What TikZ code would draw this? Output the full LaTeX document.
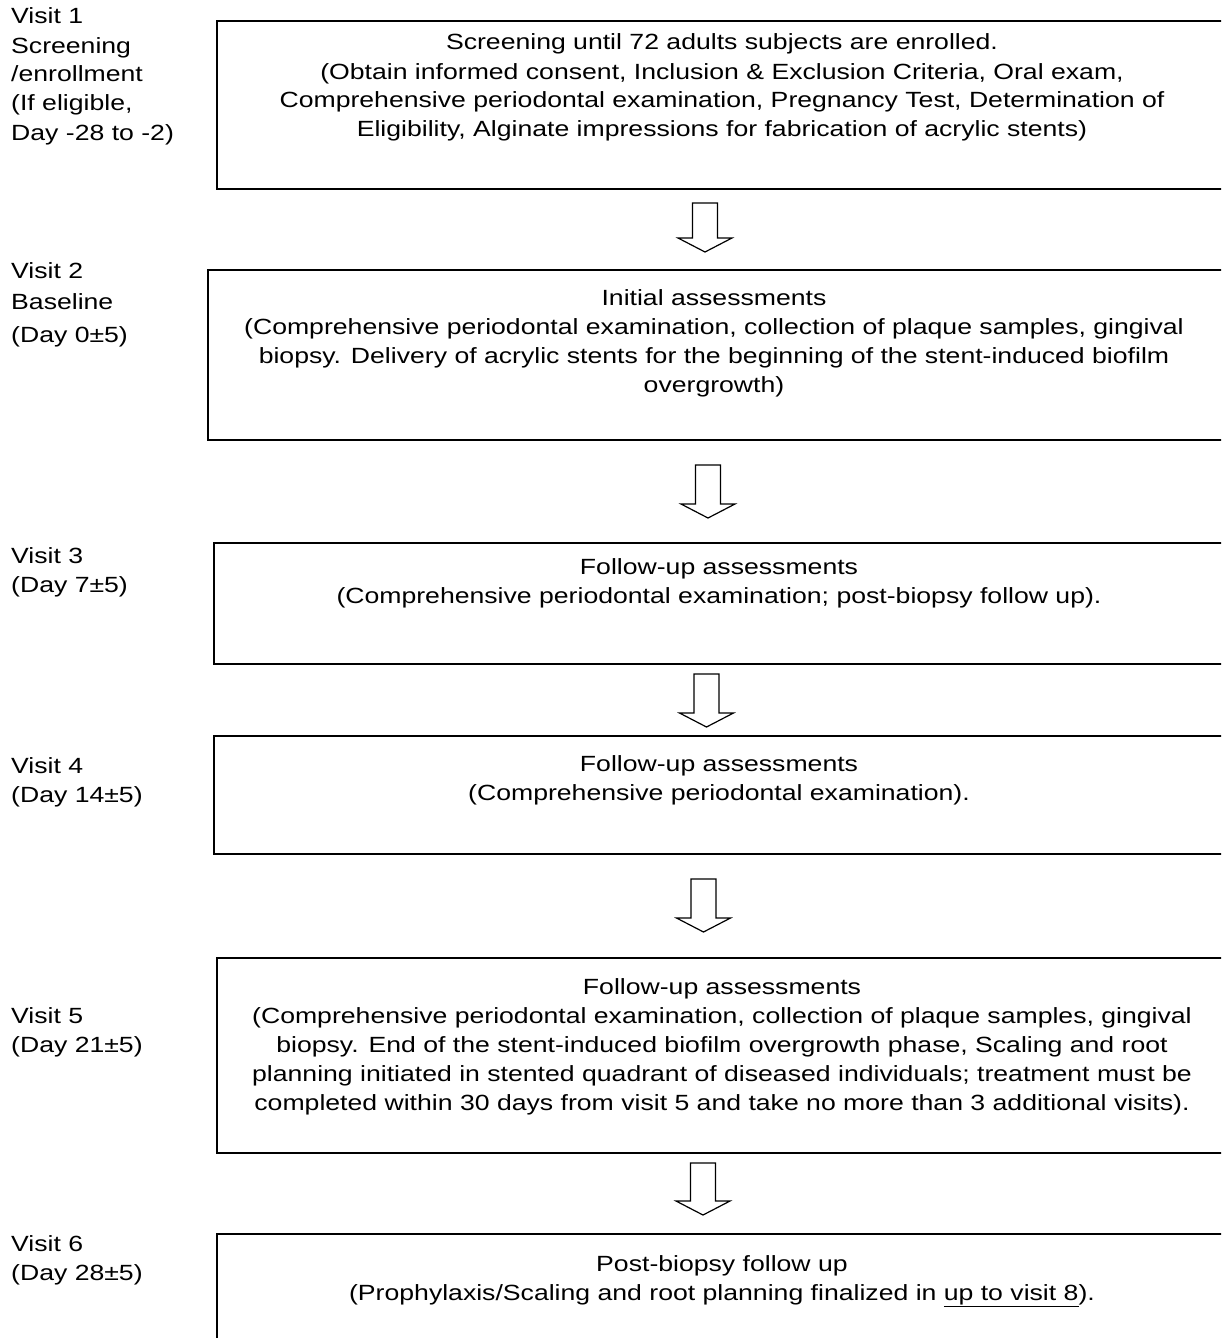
\documentclass[tikz,border=0pt]{standalone}
\usepackage{fontspec}
\setmainfont[FakeStretch=1.21]{Liberation Sans}
\usetikzlibrary{fit}
\tikzset{
  box/.style={draw=black, line width=2pt, inner sep=0pt},
  txt/.style={inner sep=0pt, anchor=base, font=\fontsize{22}{29}\selectfont},
  lbl/.style={inner sep=0pt, anchor=base west, font=\fontsize{22}{29}\selectfont},
  barrow/.style={draw=black, line width=1.2pt, fill=white, line join=miter}
}
\newcommand\blockarr[3]{%
  \draw[barrow] (#1-12.5,#2) -- (#1+12.5,#2) -- (#1+12.5,#3-14) -- (#1+27,#3-14)
    -- (#1,#3) -- (#1-27,#3-14) -- (#1-12.5,#3-14) -- cycle;}
\newcommand\ctext[1]{\parbox[t]{1100pt}{\centering #1}}
\newcommand\ltext[1]{\parbox[t]{300pt}{\raggedright #1}}
\begin{document}
\begin{tikzpicture}[x=1pt,y=-1pt]
\useasboundingbox (0,0) rectangle (1221,1338);
\clip (0,0) rectangle (1221,1338);
\fill[white] (0,0) rectangle (1221,1338);

% boxes
\node[box, fit={(217,21) (1228,189)}] (b1) {};
\node[box, fit={(208,270) (1228,440)}] (b2) {};
\node[box, fit={(214,543) (1228,664)}] (b3) {};
\node[box, fit={(214,736) (1228,854)}] (b4) {};
\node[box, fit={(217,958) (1228,1153)}] (b5) {};
\node[box, fit={(217,1234) (1228,1350)}] (b6) {};

% box texts
\node[txt] (t1) at (722,50) {\ctext{Screening until 72 adults subjects are enrolled.\\
(Obtain informed consent, Inclusion \& Exclusion Criteria, Oral exam,\\
Comprehensive periodontal examination, Pregnancy Test, Determination of\\
Eligibility, Alginate impressions for fabrication of acrylic stents)}};
\node[txt] (t2) at (714,305) {\ctext{Initial assessments\\
(Comprehensive periodontal examination, collection of plaque samples, gingival\\
biopsy. Delivery of acrylic stents for the beginning of the stent-induced biofilm\\
overgrowth)}};
\node[txt] (t3) at (719,574) {\ctext{Follow-up assessments\\
(Comprehensive periodontal examination; post-biopsy follow up).}};
\node[txt] (t4) at (719,771) {\ctext{Follow-up assessments\\
(Comprehensive periodontal examination).}};
\node[txt] (t5) at (722,994) {\ctext{Follow-up assessments\\
(Comprehensive periodontal examination, collection of plaque samples, gingival\\
biopsy. End of the stent-induced biofilm overgrowth phase, Scaling and root\\
planning initiated in stented quadrant of diseased individuals; treatment must be\\
completed within 30 days from visit 5 and take no more than 3 additional visits).}};
\node[txt] (t6) at (722,1271) {\ctext{Post-biopsy follow up\\
(Prophylaxis/Scaling and root planning finalized in \underline{up to visit 8}).}};

% left labels
\node[lbl] (l1) at (11,24) {\ltext{Visit 1\\Screening\\/enrollment\\(If eligible,\\Day -28 to -2)}};
\node[lbl] (l2) at (11,278) {\ltext{Visit 2\\[2pt]Baseline\\[4pt](Day 0±5)}};
\node[lbl] (l3) at (11,563) {\ltext{Visit 3\\(Day 7±5)}};
\node[lbl] (l4) at (11,773) {\ltext{Visit 4\\(Day 14±5)}};
\node[lbl] (l5) at (11,1023) {\ltext{Visit 5\\(Day 21±5)}};
\node[lbl] (l6) at (11,1251) {\ltext{Visit 6\\(Day 28±5)}};

% block arrows
\blockarr{705}{203}{252}
\blockarr{708}{465}{518}
\blockarr{706.5}{674}{727}
\blockarr{703.5}{879}{932}
\blockarr{703}{1163}{1215}
\end{tikzpicture}
\end{document}
